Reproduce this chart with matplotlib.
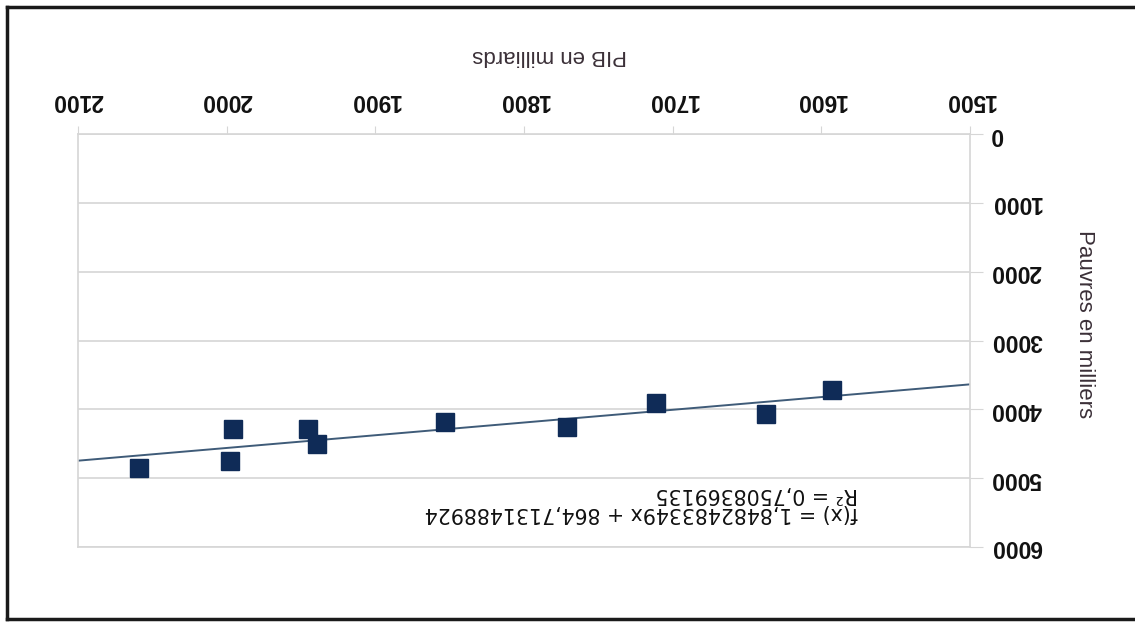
"""Scatter PIB vs pauvres with linear trend, scanned upside down."""

from __future__ import annotations

import matplotlib

matplotlib.use("Agg")
import matplotlib.pyplot as plt   # noqa: E402
import numpy as np                # noqa: E402
from matplotlib.lines import Line2D  # noqa: E402

pib = [1593, 1637, 1711, 1771, 1853, 1939, 1945, 1996, 1998, 2059]
pauvres = [3719, 4068, 3908, 4257, 4184, 4504, 4286, 4286, 4751, 4852]

slope = 1.8482483349
intercept = 864.7131488924
r2 = 0.7508369135

x_ticks = [1500, 1600, 1700, 1800, 1900, 2000, 2100]
y_ticks = [0, 1000, 2000, 3000, 4000, 5000, 6000]

eq_label = "f(x) = 1,8482483349x + 864,7131488924"
r2_label = "R² = 0,7508369135"


def main() -> None:
    plt.rcParams["font.family"] = ["Liberation Sans", "DejaVu Sans"]
    W, H = 1135, 622
    fig = plt.figure(figsize=(W / 100, H / 100), dpi=100)
    ax = fig.add_axes([78 / W, 1 - 547 / H, 892 / W, 413 / H])

    grid_c = "#d6d6d6"
    for y in y_ticks:
        ax.axhline(y, color=grid_c, lw=1.2, zorder=0)

    xs = np.array([x_ticks[0], x_ticks[-1]])
    ax.plot(xs, slope * xs + intercept, color="#3f5b78", lw=1.4, zorder=2)
    ax.plot(pib, pauvres, "s", ms=13, color="#0f2b57", mec="#0f2b57",
            zorder=3)

    # the scan is rotated: x axis on top (reversed), y axis on the right
    ax.set_xlim(2100, 1500)
    ax.set_ylim(6000, 0)
    ax.xaxis.tick_top()
    ax.yaxis.tick_right()
    ax.set_xticks(x_ticks)
    ax.set_yticks(y_ticks)
    for s in ax.spines.values():
        s.set_color(grid_c)
        s.set_linewidth(1.2)
    ax.tick_params(axis="x", labelrotation=180, length=6, color=grid_c,
                   pad=10, labelsize=16.5, labelcolor="#111111")
    ax.tick_params(axis="y", labelrotation=180, length=9, color=grid_c,
                   pad=6, labelsize=16.5, labelcolor="#111111")
    for t in ax.xaxis.get_major_ticks():
        t.label2.set_fontweight("bold")
    for t in ax.yaxis.get_major_ticks():
        t.label2.set_fontweight("bold")
        t.label2.set_va("center")

    ax.set_xlabel("PIB en milliards", fontsize=16, color="#3b3038",
                  rotation=180)
    ax.xaxis.set_label_position("top")
    ax.xaxis.set_label_coords(0.529, 1.191)
    ax.xaxis.label.set_va("center")
    ax.set_ylabel("Pauvres en milliers", fontsize=16, color="#3b3038",
                  rotation=270)
    ax.yaxis.set_label_position("right")
    ax.yaxis.set_label_coords(1.128, 0.540)
    ax.yaxis.label.set_va("center")
    ax.yaxis.label.set_ha("center")

    # regression label, two lines in one text block
    fig.text(858 / W, 1 - 487 / H, eq_label + "\n" + r2_label,
             rotation=180, rotation_mode="anchor", ha="left",
             va="baseline", multialignment="left", linespacing=0.92,
             family="DejaVu Sans", fontsize=14.8, color="#111111")

    # black frame of the scanned page (right side is cut off)
    frame = dict(color="#1a1a1a", lw=2.5, transform=fig.transFigure)
    fig.add_artist(Line2D([6.5 / W, 1.01], [1 - 6.5 / H] * 2, **frame))
    fig.add_artist(Line2D([6.5 / W, 1.01], [1 - 618.5 / H] * 2, **frame))
    fig.add_artist(Line2D([6.5 / W] * 2, [1 - 6.5 / H, 1 - 618.5 / H],
                          **frame))

    fig.savefig("out.png", dpi=100)
    plt.close(fig)


if __name__ == "__main__":
    main()
